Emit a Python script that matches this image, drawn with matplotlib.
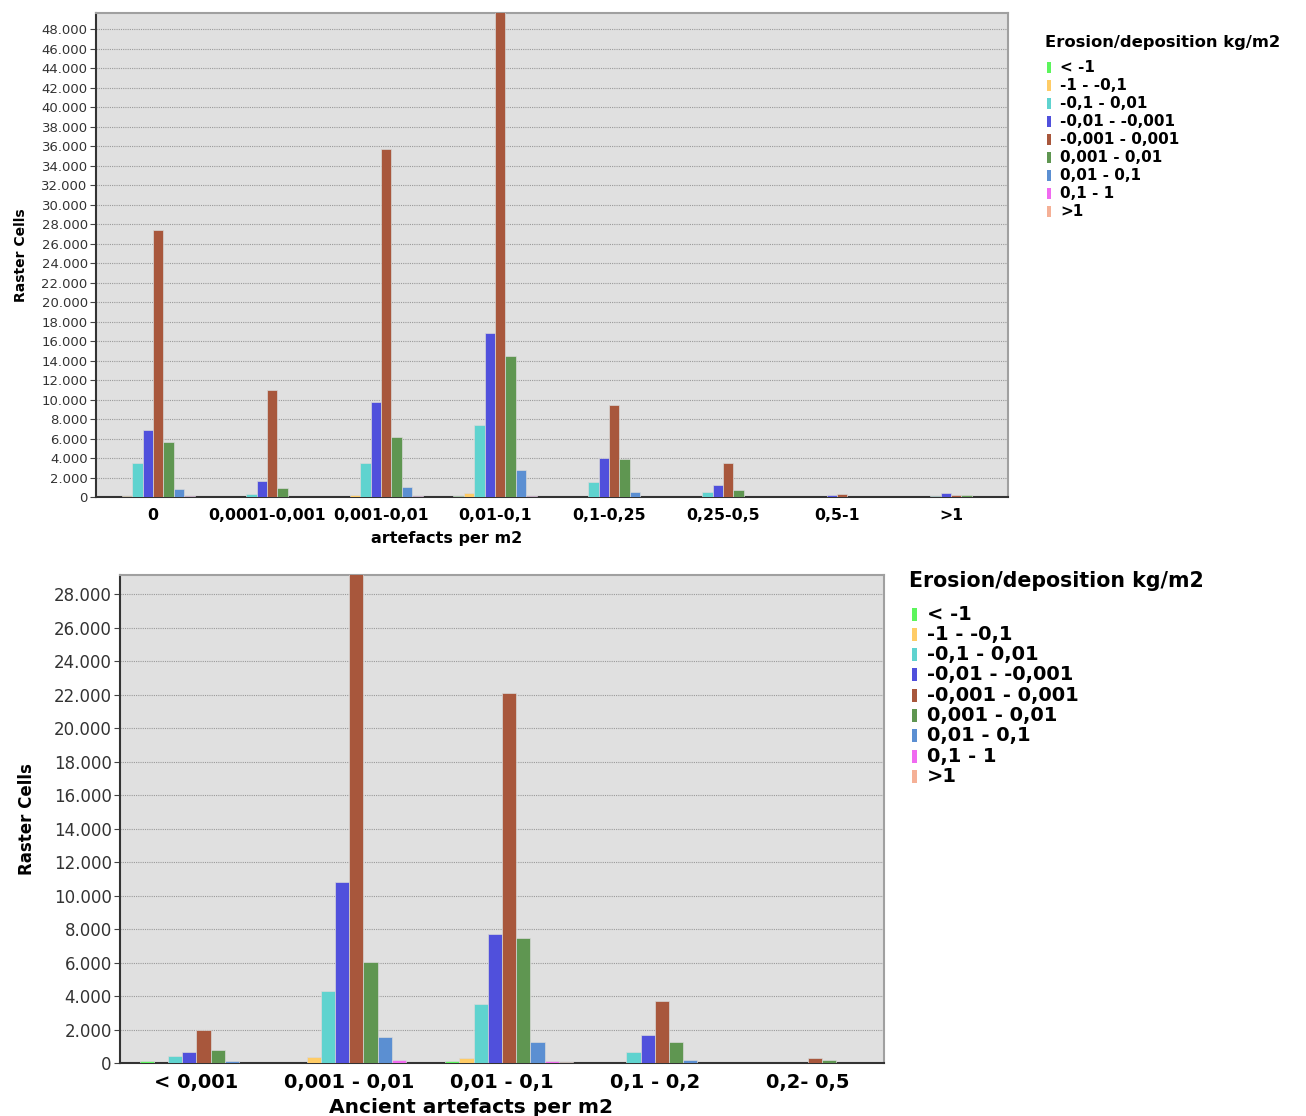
import matplotlib
matplotlib.use("Agg")
import matplotlib.pyplot as plt
import numpy as np
from matplotlib.patches import Rectangle
from matplotlib.ticker import FuncFormatter

# ---------------- data ----------------
series_labels = ["< -1", "-1 - -0,1", "-0,1 - 0,01", "-0,01 - -0,001", "-0,001 - 0,001",
                 "0,001 - 0,01", "0,01 - 0,1", "0,1 - 1", ">1"]
series_colors = ["#5cf55c", "#ffcc66", "#5fd3cf", "#5050dc", "#a8573c",
                 "#5f9651", "#5b8fd2", "#f06af0", "#f5b096"]

top_categories = ["0", "0,0001-0,001", "0,001-0,01", "0,01-0,1", "0,1-0,25", "0,25-0,5", "0,5-1", ">1"]
top_lt_m1      = [0, 0, 0, 100, 0, 0, 0, 0]
top_m1_m01     = [130, 0, 200, 380, 0, 0, 0, 0]
top_m01_001    = [3500, 280, 3500, 7400, 1570, 550, 0, 150]
top_m001_m0001 = [6900, 1610, 9700, 16800, 3970, 1200, 170, 410]
top_m0001_0001 = [27400, 10970, 35700, 50500, 9400, 3460, 300, 170]
top_0001_001   = [5600, 960, 6200, 14460, 3860, 690, 0, 170]
top_001_01     = [800, 0, 1060, 2800, 550, 0, 0, 0]
top_01_1       = [130, 0, 130, 130, 0, 0, 0, 0]
top_gt1        = [0, 0, 0, 0, 0, 0, 0, 0]

bot_categories = ["< 0,001", "0,001 - 0,01", "0,01 - 0,1", "0,1 - 0,2", "0,2- 0,5"]
bot_lt_m1      = [100, 0, 100, 0, 0]
bot_m1_m01     = [0, 340, 290, 0, 0]
bot_m01_001    = [440, 4300, 3520, 640, 0]
bot_m001_m0001 = [640, 10800, 7700, 1670, 0]
bot_m0001_0001 = [1970, 29500, 22090, 3680, 280]
bot_0001_001   = [800, 6030, 7460, 1250, 200]
bot_001_01     = [100, 1570, 1250, 180, 0]
bot_01_1       = [0, 180, 100, 0, 0]
bot_gt1        = [0, 0, 80, 0, 0]

top_series = [top_lt_m1, top_m1_m01, top_m01_001, top_m001_m0001, top_m0001_0001,
              top_0001_001, top_001_01, top_01_1, top_gt1]
bot_series = [bot_lt_m1, bot_m1_m01, bot_m01_001, bot_m001_m0001, bot_m0001_0001,
              bot_0001_001, bot_001_01, bot_01_1, bot_gt1]

# ---------------- figure ----------------
W, H = 1306, 1116
fig = plt.figure(figsize=(W / 100, H / 100), dpi=100)
plt.rcParams["font.family"] = ["DejaVu Sans"]


def px_axes(l, t, r, b):
    return fig.add_axes([l / W, 1 - b / H, (r - l) / W, (b - t) / H])


fmt = FuncFormatter(lambda v, p: f"{int(round(v)):,}".replace(",", "."))


def draw(ax, cats, series, ymax, ymaxtick, barw, tick_fs, cat_fs, xlabel, xlabel_fs,
         ylabel_fs, xlab_pos, ylab_x, cat_pad):
    n = len(cats)
    x = np.arange(n)
    ax.set_facecolor("#e0e0e0")
    for j, vals in enumerate(series):
        vals = np.asarray(vals, dtype=float)
        lws = [0.7 if v > 0 else 0.0 for v in vals]
        ax.bar(x + (j - 3.5) * barw, vals, width=barw, color=series_colors[j],
               edgecolor=(0.85, 0.85, 0.85, 0.7), linewidth=lws, zorder=3)
    ax.set_xlim(-0.5, n - 0.5)
    ax.set_ylim(0, ymax)
    ax.set_yticks(np.arange(0, ymaxtick + 1, 2000))
    ax.yaxis.set_major_formatter(fmt)
    ax.grid(axis="y", color="#9a9a9a", linestyle=(0, (1, 1)), linewidth=0.8, zorder=1)
    ax.set_xticks(x)
    ax.set_xticklabels(cats, fontsize=cat_fs, fontweight="bold")
    ax.tick_params(axis="x", length=0, pad=cat_pad)
    ax.tick_params(axis="y", labelsize=tick_fs, length=4, width=0.8, color="#444444",
                   labelcolor="#333333", pad=2)
    for s in ["top", "right"]:
        ax.spines[s].set_color("#a0a0a0")
        ax.spines[s].set_linewidth(1.5)
    for s in ["left", "bottom"]:
        ax.spines[s].set_color("#333333")
        ax.spines[s].set_linewidth(1.5)
    ax.set_xlabel(xlabel, fontsize=xlabel_fs, fontweight="bold", labelpad=0)
    ax.xaxis.set_label_coords(*xlab_pos)
    ax.set_ylabel("Raster Cells", fontsize=ylabel_fs, fontweight="bold")
    ax.yaxis.set_label_coords(ylab_x, 0.5)


ax1 = px_axes(96, 13, 1008, 497)
draw(ax1, top_categories, top_series, 49650, 48000, 0.092, 9.5, 11.3,
     "artefacts per m2", 11.5, 10, (0.385, -0.07), -0.075, 8)

ax2 = px_axes(120, 575, 884, 1063)
draw(ax2, bot_categories, bot_series, 29150, 28000, 0.093, 12, 14,
     "Ancient artefacts per m2", 14.5, 12, (0.46, -0.071), -0.11, 7)


def legend(x_title, y_title, x_patch, x_text, y0, dy, fs, title_fs, pw, ph):
    fig.text(x_title / W, 1 - y_title / H, "Erosion/deposition kg/m2",
             fontsize=title_fs, fontweight="bold", ha="left", va="center")
    for i, (lab, col) in enumerate(zip(series_labels, series_colors)):
        yc = y0 + dy * i
        fig.add_artist(Rectangle((x_patch / W, 1 - (yc + ph / 2) / H), pw / W, ph / H,
                                 facecolor=col, edgecolor="none",
                                 transform=fig.transFigure))
        fig.text(x_text / W, 1 - yc / H, lab, fontsize=fs, fontweight="bold",
                 ha="left", va="center")


legend(1045, 42, 1047, 1060, 67, 18, 11, 11.8, 4, 11)
legend(909, 581, 912, 927, 614, 20.3, 14, 14.8, 5, 13)

fig.savefig("out.png", dpi=100, facecolor="white")
